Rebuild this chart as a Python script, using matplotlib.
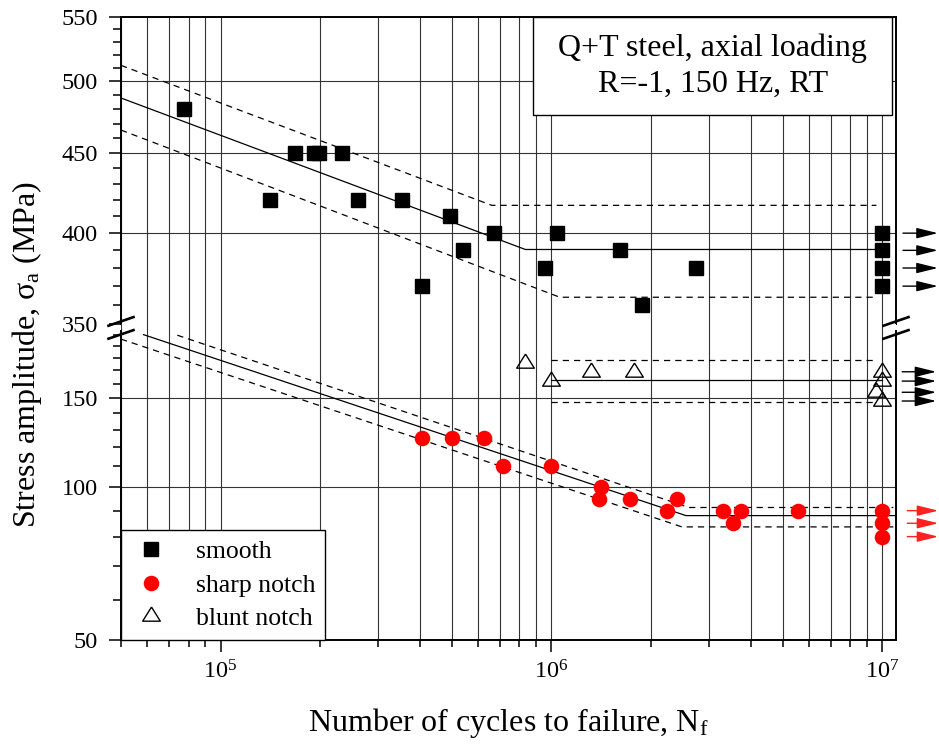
import matplotlib
matplotlib.use("Agg")
import matplotlib.pyplot as plt
from matplotlib.ticker import LogLocator, NullFormatter, LogFormatterMathtext
from matplotlib.lines import Line2D
from matplotlib.patches import Rectangle

plt.rcParams['font.family'] = ['Liberation Serif', 'DejaVu Serif']
plt.rcParams['mathtext.fontset'] = 'custom'
plt.rcParams['mathtext.rm'] = 'Liberation Serif'
plt.rcParams['mathtext.it'] = 'Liberation Serif:italic'

# --- test results -------------------------------------------------------
# smooth specimens (failures), cycles / stress amplitude in MPa
smooth_N = [7.75e4, 1.41e5, 1.68e5, 1.92e5, 1.98e5, 2.32e5, 2.6e5, 3.54e5,
            4.07e5, 4.95e5, 5.42e5, 6.69e5, 9.58e5, 1.036e6, 1.61e6, 1.88e6,
            2.74e6]
smooth_S = [480, 420, 450, 450, 450, 450, 420, 420,
            370, 410, 390, 400, 380, 400, 390, 360,
            380]
smooth_runout_N = [1e7, 1e7, 1e7, 1e7]
smooth_runout_S = [400, 390, 380, 370]

# sharp notch
sharp_N = [4.07e5, 5.02e5, 6.27e5, 7.16e5, 1.0e6, 1.41e6, 1.39e6, 1.73e6,
           2.39e6, 2.23e6, 3.30e6, 3.74e6, 3.53e6, 5.57e6]
sharp_S = [125, 125, 125, 110, 110, 100, 95, 95,
           95, 90, 90, 90, 85, 90]
sharp_runout_N = [1e7, 1e7, 1e7]
sharp_runout_S = [90, 85, 80]

# blunt notch
blunt_N = [8.34e5, 1.0e6, 1.32e6, 1.78e6]
blunt_S = [176, 162, 169, 169]
blunt_runout_N = [1e7, 1e7, 9.6e6, 1e7]
blunt_runout_S = [169, 162, 154, 148]

# --- fitted S-N curves with scatter bands (vertices: N, S) -------------
smooth_fit_N, smooth_fit_S = [5e4, 8.34e5, 1e7], [488, 390.5, 390.5]
smooth_hi_N, smooth_hi_S = [5e4, 6.6e5, 9.6e6], [512, 416.7, 416.7]
smooth_lo_N, smooth_lo_S = [5e4, 1.06e6, 9.6e6], [465.5, 364, 364]

sharp_fit_N, sharp_fit_S = [5.85e4, 2.55e6, 1.1e7], [200, 88, 88]
sharp_hi_N, sharp_hi_S = [7.4e4, 2.6e6, 1.08e7], [199.5, 91.3, 91.3]
sharp_lo_N, sharp_lo_S = [5e4, 2.48e6, 1.08e7], [196, 83.6, 83.6]

blunt_fit_N, blunt_fit_S = [1e6, 1e7], [163, 163]
blunt_hi_N, blunt_hi_S = [1e6, 9.5e6], [178.5, 178.5]
blunt_lo_N, blunt_lo_S = [1e6, 9.5e6], [147.5, 147.5]

# axis ranges and ticks
x_range = (5e4, 1.1e7)
hi_range = (350, 550)
lo_range = (50, 210)
hi_major = [350, 400, 450, 500, 550]
hi_minor = [v for v in range(360, 550, 10) if v not in hi_major]
lo_major = [50, 100, 150]
lo_minor = [v for v in range(60, 210, 10) if v not in lo_major]
hi_grid = [400, 450, 500]
lo_grid = [100, 150]

# --- figure layout (pixel based) ------------------------------------------
W, H = 939, 748
fig = plt.figure(figsize=(W / 100, H / 100), dpi=100)
left, right = 121, 896
top, brk, bottom = 16.7, 323.9, 640.2
ax_hi = fig.add_axes([left / W, 1 - brk / H, (right - left) / W, (brk - top) / H])
ax_lo = fig.add_axes([left / W, 1 - bottom / H, (right - left) / W, (bottom - brk) / H])

grid_kw = dict(color='0.2', lw=0.8, zorder=1)
fit_kw = dict(color='k', lw=0.9, zorder=2)
band_kw = dict(color='k', lw=0.9, ls=(0, (5, 4)), zorder=2)

for ax, yr, major, minor, hgrid in ((ax_hi, hi_range, hi_major, hi_minor, hi_grid),
                                     (ax_lo, lo_range, lo_major, lo_minor, lo_grid)):
    ax.set_xscale('log')
    ax.set_yscale('log')
    ax.set_xlim(*x_range)
    ax.set_ylim(*yr)
    ax.set_yticks(major)
    ax.set_yticklabels([str(v) for v in major])
    ax.set_yticks(minor, minor=True)
    ax.yaxis.set_minor_formatter(NullFormatter())
    ax.xaxis.set_major_locator(LogLocator(base=10))
    ax.xaxis.set_minor_locator(LogLocator(base=10, subs=range(2, 10), numticks=20))
    ax.xaxis.set_minor_formatter(NullFormatter())
    ax.grid(axis='x', which='both', **grid_kw)
    for v in hgrid:
        ax.axhline(v, **grid_kw)
    ax.tick_params(axis='y', which='major', direction='out', length=9, width=1.1,
                   labelsize=17.5, pad=7.5)
    ax.tick_params(axis='y', which='minor', direction='out', length=5.5, width=1.1)
    ax.tick_params(axis='y', which='both', right=False)
    for sp in ax.spines.values():
        sp.set_linewidth(1.4)

ax_hi.spines['bottom'].set_visible(False)
ax_lo.spines['top'].set_visible(False)
ax_lo.spines['left'].set_bounds(50, 203)
ax_lo.spines['right'].set_bounds(50, 203)
ax_hi.tick_params(axis='x', which='both', length=0, labelbottom=False)
ax_lo.xaxis.set_major_formatter(LogFormatterMathtext())
ax_lo.tick_params(axis='x', which='major', direction='out', length=8.5, width=1.1,
                  labelsize=17.5, pad=6, top=False)
ax_lo.tick_params(axis='x', which='minor', direction='out', length=5, width=1.1, top=False)

# --- fitted curves -----------------------------------------------------------
ax_hi.plot(smooth_fit_N, smooth_fit_S, **fit_kw)
ax_hi.plot(smooth_hi_N, smooth_hi_S, **band_kw)
ax_hi.plot(smooth_lo_N, smooth_lo_S, **band_kw)
ax_lo.plot(sharp_fit_N, sharp_fit_S, **fit_kw)
ax_lo.plot(sharp_hi_N, sharp_hi_S, **band_kw)
ax_lo.plot(sharp_lo_N, sharp_lo_S, **band_kw)
ax_lo.plot(blunt_fit_N, blunt_fit_S, **fit_kw)
ax_lo.plot(blunt_hi_N, blunt_hi_S, **band_kw)
ax_lo.plot(blunt_lo_N, blunt_lo_S, **band_kw)

# --- data points -------------------------------------------------------------
tri = [(0, 1.07), (-1, -0.53), (1, -0.53), (0, 1.07)]  # centroid at origin
sq_kw = dict(ls='none', marker='s', ms=9.6, color='k', zorder=4)
dot_kw = dict(ls='none', marker='o', ms=11.2, color='#ff0000', mec='none', zorder=4)
tri_kw = dict(ls='none', marker=tri, ms=13.6, mfc='none', mec='k', mew=1.0, zorder=4)

h_smooth, = ax_hi.plot(smooth_N, smooth_S, **sq_kw)
ax_hi.plot(smooth_runout_N, smooth_runout_S, **sq_kw)
h_sharp, = ax_lo.plot(sharp_N, sharp_S, **dot_kw)
ax_lo.plot(sharp_runout_N, sharp_runout_S, **dot_kw)
h_blunt, = ax_lo.plot(blunt_N, blunt_S, **tri_kw)
ax_lo.plot(blunt_runout_N, blunt_runout_S, **tri_kw)


# run-out arrows outside the frame
def runout_arrows(ax, values, x0, x1, color):
    for s in values:
        ax.annotate('', xy=(x1, s), xytext=(x0, s), xycoords=ax.get_yaxis_transform(),
                    annotation_clip=False,
                    arrowprops=dict(arrowstyle='-|>,head_length=0.65,head_width=0.16',
                                    mutation_scale=20, color=color, lw=1.0,
                                    shrinkA=0, shrinkB=0))


runout_arrows(ax_hi, smooth_runout_S, 1.009, 1.054, 'k')
runout_arrows(ax_lo, blunt_runout_S, 1.008, 1.052, 'k')
runout_arrows(ax_lo, sharp_runout_S, 1.0146, 1.0546, '#ff2020')

# --- annotation box ------------------------------------------------------------
ax_hi.add_patch(Rectangle((0.532, 0.680), 0.4632, 0.318, transform=ax_hi.transAxes,
                          facecolor='white', edgecolor='k', lw=1.0, zorder=6))
ax_hi.text(0.7636, 0.838, 'Q+T steel, axial loading\nR=-1, 150 Hz, RT',
           transform=ax_hi.transAxes, ha='center', va='center', fontsize=23,
           linespacing=1.32, zorder=7)

# --- legend ----------------------------------------------------------------------
leg = ax_lo.legend([h_smooth, h_sharp, h_blunt], ['smooth', 'sharp notch', 'blunt notch'],
                   loc='lower left', bbox_to_anchor=(0, 0), borderaxespad=0,
                   fontsize=18.5, numpoints=1, handlelength=1.5, handletextpad=1.0,
                   borderpad=0.4, labelspacing=0.4, fancybox=False, framealpha=1,
                   edgecolor='k')
leg.get_frame().set_linewidth(1.0)
leg.set_zorder(8)

# --- axis break marks ------------------------------------------------------------
for xc in (left, right):
    for dy in (-2.5, 10.5):
        yc = brk + dy
        fig.add_artist(Line2D([(xc - 12.5) / W, (xc + 12.5) / W],
                              [1 - (yc + 4.3) / H, 1 - (yc - 4.3) / H],
                              color='k', lw=1.9, zorder=10))

# --- axis titles -------------------------------------------------------------------
fig.text(27 / W, 1 - 355 / H, 'Stress amplitude, σ$_\\mathregular{a}$ (MPa)',
         rotation=90, ha='center', va='center', fontsize=23)
fig.text((left + right) / 2 / W, 1 - 731 / H, 'Number of cycles to failure, N$_\\mathregular{f}$',
         ha='center', va='baseline', fontsize=23)

fig.savefig('out.png', dpi=100)
